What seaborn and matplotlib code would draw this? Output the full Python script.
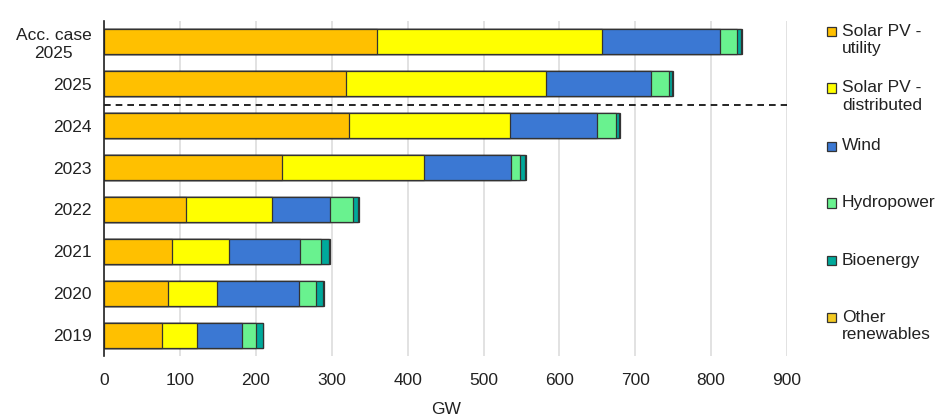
import numpy as np
import pandas as pd
import seaborn as sns
import matplotlib.pyplot as plt
from matplotlib.patches import Rectangle

# Renewable capacity additions (GW)
years = ["Acc. case\n2025", "2025", "2024", "2023", "2022", "2021", "2020", "2019"]
solar_utility = [359, 319, 323, 235, 108, 89, 84, 76]
solar_distributed = [297, 263, 212, 187, 113, 76, 65, 47]
wind = [155, 139, 115, 114, 77, 93, 108, 59]
hydropower = [23, 24, 24, 12, 30, 28, 22, 18]
bioenergy = [5, 4, 5, 7, 7, 11, 10, 9]
other = [1, 1, 1, 1, 1, 1, 1, 1]

series = ["Solar PV -\nutility", "Solar PV -\ndistributed", "Wind",
          "Hydropower", "Bioenergy", "Other\nrenewables"]
colors = ["#FFC000", "#FFFF00", "#3B78D3", "#69F28F", "#00A99B", "#F4CA22"]

data = pd.DataFrame({
    "Year": years,
    series[0]: solar_utility,
    series[1]: solar_distributed,
    series[2]: wind,
    series[3]: hydropower,
    series[4]: bioenergy,
    series[5]: other,
})

sns.set_theme(style="whitegrid")
plt.rcParams["font.family"] = ["Liberation Sans", "DejaVu Sans"]
FS = 12.5

fig = plt.figure(figsize=(9.46, 4.18), dpi=100)
ax = fig.add_axes([0.110, 0.148, 0.722, 0.802])

# stacked bars: draw cumulative totals from the largest down
cum = data[series].cumsum(axis=1)
for name, col in reversed(list(zip(series, colors))):
    sns.barplot(x=cum[name], y=data["Year"], orient="h", color=col,
                width=0.6, edgecolor="#333333", linewidth=0.9,
                saturation=1, ax=ax)

# separator between outlook and historical years
ax.axhline(1.5, color="black", linestyle=(0, (4, 3)), linewidth=1.2)

ax.set_xlim(0, 900)
ax.set_ylim(7.5, -0.5)
ax.set_xticks(np.arange(0, 901, 100))
ax.set_xlabel("GW", fontsize=FS, color="#222222", labelpad=10)
ax.set_ylabel("")
ax.tick_params(axis="x", labelsize=FS, colors="#222222", length=0, pad=12)
ax.tick_params(axis="y", labelsize=FS, colors="#222222", length=0, pad=9)
for lbl in ax.get_yticklabels():
    lbl.set_multialignment("center")
    lbl.set_linespacing(1.25)
ax.set_facecolor("white")
ax.grid(axis="x", color="#DDDDDD", linewidth=1.2)
ax.grid(axis="y", visible=False)
for side in ["top", "right", "bottom"]:
    ax.spines[side].set_visible(False)
ax.spines["left"].set_color("#222222")
ax.spines["left"].set_linewidth(1.2)

# legend placed by hand down the right side
W, H = 946, 418
legend_y = [31.5, 88, 146, 203, 260, 317]
for name, col, yc in zip(series, colors, legend_y):
    fig.patches.append(Rectangle((827 / W, 1 - (yc + 4.5) / H), 9 / W, 9 / H,
                                 transform=fig.transFigure, facecolor=col,
                                 edgecolor="#333333", linewidth=0.9))
    fig.text(842 / W, 1 - (yc - 7.5) / H, name, fontsize=FS, color="#222222",
             va="top", ha="left", linespacing=1.2)

fig.savefig("out.png", dpi=100)
